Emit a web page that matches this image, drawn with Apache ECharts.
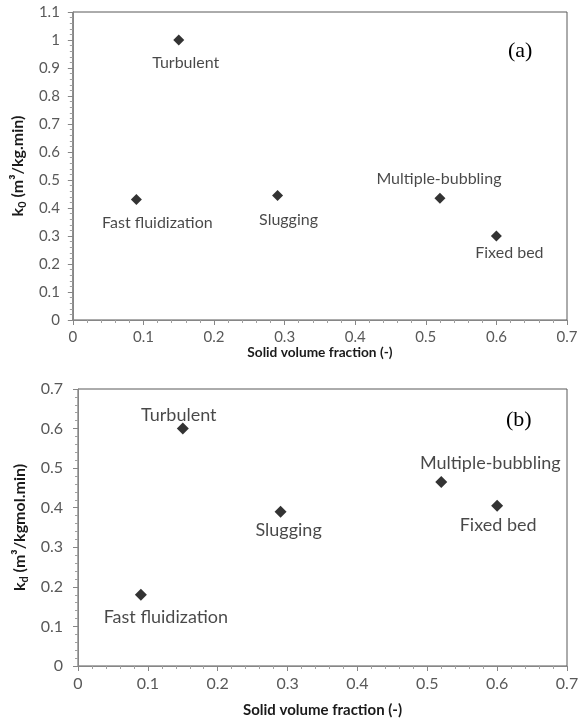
<!DOCTYPE html>
<html><head><meta charset="utf-8">
<script src="https://cdn.jsdelivr.net/npm/echarts@6/dist/echarts.min.js"></script>
<style>html,body{margin:0;padding:0;background:#fff}#c{width:587px;height:722px}</style>
</head><body><div id="c"></div>
<script>
const regimes = ['Turbulent','Fast fluidization','Slugging','Multiple-bubbling','Fixed bed'];
const solidFraction = [0.15, 0.09, 0.29, 0.52, 0.60];
const k0Values = [1.0, 0.43, 0.445, 0.435, 0.30];
const solidFractionB = [0.15, 0.09, 0.29, 0.52, 0.60];
const kdValues = [0.60, 0.18, 0.39, 0.465, 0.405];
const xTicks = [0,0.1,0.2,0.3,0.4,0.5,0.6,0.7];
const yTicksA = [0,0.1,0.2,0.3,0.4,0.5,0.6,0.7,0.8,0.9,1,1.1];
const yTicksB = [0,0.1,0.2,0.3,0.4,0.5,0.6,0.7];

// label placement (layout, not data)
const offA = [[7,23],[21,23],[11,24],[-1,-19],[13,17]];
const offB = [[-4,-13],[25,22],[8,19],[49,-19],[1,19]];

const FONT = 'Lato';
function mk(xs, ys, offs, fs){
  return regimes.map((n,i)=>({value:[xs[i],ys[i]], name:n,
    label:{show:true, formatter:n, position:'inside', offset:offs[i], color:'#1a1a1a', fontSize:fs, fontFamily:FONT}}));
}
function xAx(gi, gap, fs, tfs){
  return {type:'value', gridIndex:gi, min:0, max:0.7, interval:0.1,
    axisLine:{lineStyle:{color:'#868686'}}, axisTick:{length:5, lineStyle:{color:'#868686'}},
    minorTick:{show:true, splitNumber:5, length:3, lineStyle:{color:'#a0a0a0'}},
    splitLine:{show:false},
    axisLabel:{color:'#595959', fontSize:fs, fontFamily:FONT, margin:10, formatter:v=>String(+v.toFixed(1))},
    name:'Solid volume fraction (-)', nameLocation:'middle', nameGap:gap,
    nameTextStyle:{color:'#1a1a1a', fontSize:tfs, fontWeight:'bold', fontFamily:FONT}};
}
function yAx(gi, max, gap, fs, tfs, sub, unit, margin){
  return {type:'value', gridIndex:gi, min:0, max:max, interval:0.1,
    axisLine:{show:true, lineStyle:{color:'#868686'}}, axisTick:{show:true, length:5, lineStyle:{color:'#868686'}},
    minorTick:{show:true, splitNumber:5, length:3, lineStyle:{color:'#a0a0a0'}},
    splitLine:{show:false},
    axisLabel:{color:'#595959', fontSize:fs, fontFamily:FONT, margin:margin, formatter:v=>String(+v.toFixed(1))},
    name:'{a|k}{s|'+sub+'}{a| '+unit+'}', nameLocation:'middle', nameGap:gap, nameRotate:90,
    nameTextStyle:{rich:{
      a:{color:'#1a1a1a', fontSize:tfs, fontWeight:'bold', fontFamily:FONT, lineHeight:18, verticalAlign:'middle'},
      s:{color:'#1a1a1a', fontSize:tfs-5, fontWeight:'bold', fontFamily:FONT, lineHeight:18, padding:[9,0,0,0]}
    }}};
}
const chart = echarts.init(document.getElementById('c'), null, {renderer:'canvas'});
chart.setOption({
  animation:false,
  grid:[
    {left:71.5, right:20, top:12, height:308, show:true, borderColor:'#595959', borderWidth:1},
    {left:78, right:20, top:389, height:277, show:true, borderColor:'#595959', borderWidth:1}
  ],
  xAxis:[xAx(0,26,15,13.7), xAx(1,37,16,15)],
  yAxis:[yAx(0,1.1,42,15,16,'0','(m³/kg.min)',13), yAx(1,0.7,44,16,16,'d','(m³/kgmol.min)',15)],
  graphic:[
    {type:'text', left:508, top:40, style:{text:'(a)', font:'22px "Liberation Serif"', fill:'#000'}},
    {type:'text', left:506, top:409, style:{text:'(b)', font:'22px "Liberation Serif"', fill:'#000'}}
  ],
  series:[
    {type:'scatter', xAxisIndex:0, yAxisIndex:0, symbol:'diamond', symbolSize:11,
     itemStyle:{color:'#000'}, data:mk(solidFraction,k0Values,offA,16)},
    {type:'scatter', xAxisIndex:1, yAxisIndex:1, symbol:'diamond', symbolSize:12,
     itemStyle:{color:'#000'}, data:mk(solidFractionB,kdValues,offB,18)}
  ]
});
</script></body></html>
